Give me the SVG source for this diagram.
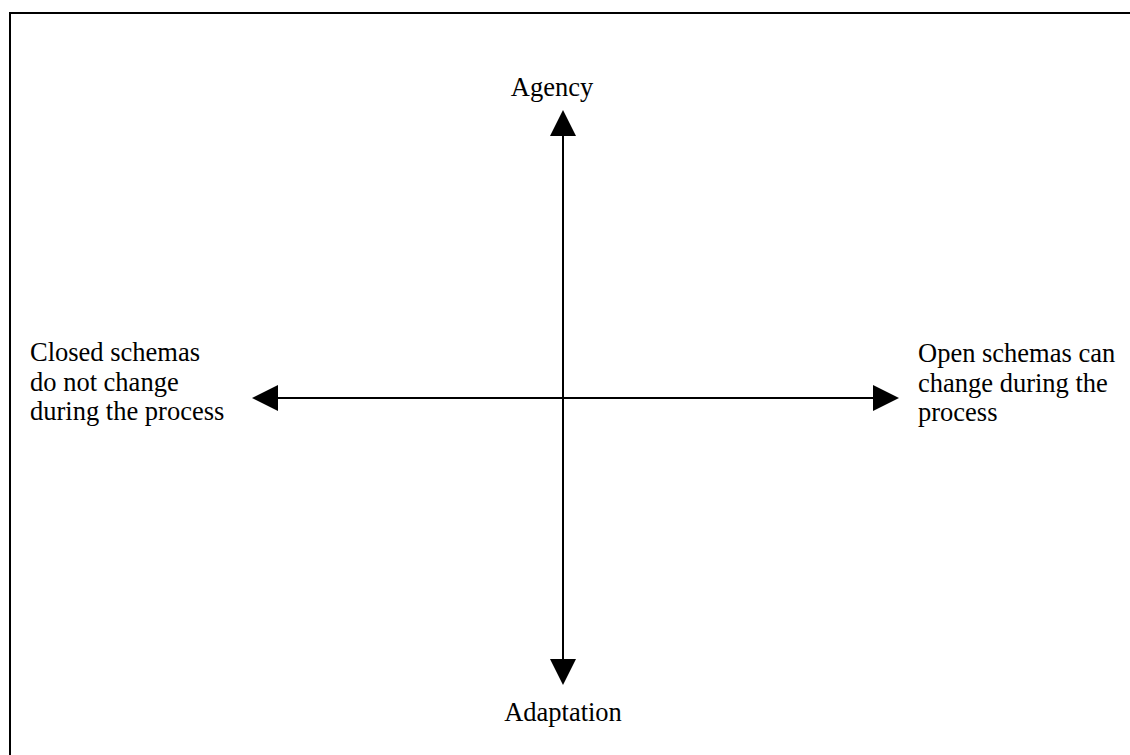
<svg xmlns="http://www.w3.org/2000/svg" width="1130" height="755" viewBox="0 0 1130 755">
<style>
text{font-family:"Liberation Serif","Times New Roman",serif;font-size:26.5px;fill:#000}
.ax{stroke:#000;stroke-width:2;fill:none}
.head{fill:#000;stroke:none}
</style>
<rect width="1130" height="755" fill="#fff"/>
<g id="frame">
<line x1="10" y1="13" x2="1130" y2="13" stroke="#000" stroke-width="2"/>
<line x1="10" y1="12" x2="10" y2="755" stroke="#000" stroke-width="2"/>
</g>
<g id="connectors">
<line class="ax" x1="563" y1="134" x2="563" y2="661"/>
<polygon class="head" points="563,110 550,136 576,136"/>
<polygon class="head" points="563,685 550,659 576,659"/>
<line class="ax" x1="276" y1="398" x2="875" y2="398"/>
<polygon class="head" points="252,398 278,385 278,411"/>
<polygon class="head" points="899,398 873,385 873,411"/>
</g>
<g id="agency"><text x="552" y="96" text-anchor="middle">Agency</text></g>
<g id="adaptation"><text x="563" y="721" text-anchor="middle">Adaptation</text></g>
<g id="closed">
<text x="30" y="361">Closed schemas</text>
<text x="30" y="390.5">do not change</text>
<text x="30" y="420">during the process</text>
</g>
<g id="open">
<text x="918" y="362">Open schemas can</text>
<text x="918" y="391.5">change during the</text>
<text x="918" y="421">process</text>
</g>
</svg>
